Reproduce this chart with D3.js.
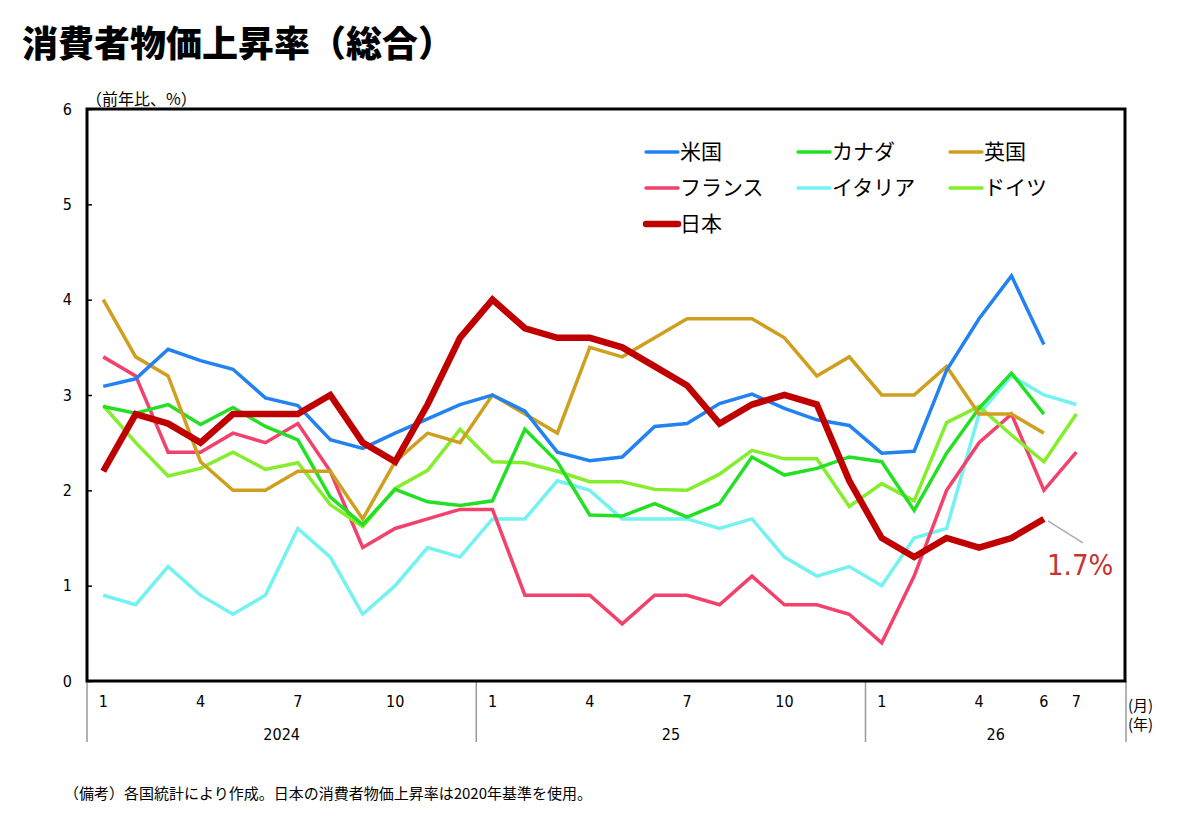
<!DOCTYPE html>
<html>
<head>
<meta charset="utf-8">
<script src="https://cdn.jsdelivr.net/npm/d3@7"></script>
<style>
  body { margin: 0; background: #fff; }
  text { font-family: "Noto Sans CJK JP", sans-serif; }
  .num { font-family: "Liberation Sans Narrow", "DejaVu Sans Condensed", "DejaVu Sans", sans-serif; font-stretch: condensed; font-weight: 400; }
</style>
</head>
<body>
<div id="viz"></div>
<script>
var width = 1200;
var height = 831;

// months Jan 2024 .. Aug 2026 (last band left empty)
var months = [];
[2024, 2025, 2026].forEach(function(y) {
  d3.range(1, 13).forEach(function(m) {
    if (y < 2026 || m <= 8) months.push(y + "-" + (m < 10 ? "0" + m : m));
  });
});

var tickMonths = ["2024-01", "2024-04", "2024-07", "2024-10",
                  "2025-01", "2025-04", "2025-07", "2025-10",
                  "2026-01", "2026-04", "2026-06", "2026-07"];
var yearStarts = ["2024-01", "2025-01", "2026-01"];
var yearLabels = ["2024", "25", "26"];
var yTicks = [0, 1, 2, 3, 4, 5, 6];

// 前年比 %
var usa     = [3.09, 3.17, 3.48, 3.36, 3.27, 2.97, 2.89, 2.53, 2.44, 2.6, 2.75, 2.9,
               3.0, 2.83, 2.4, 2.31, 2.35, 2.67, 2.7, 2.91, 3.01, 2.86, 2.74, 2.68,
               2.39, 2.41, 3.26, 3.8, 4.25, 3.53];
var canada  = [2.88, 2.81, 2.9, 2.69, 2.87, 2.67, 2.53, 1.93, 1.64, 2.01, 1.88, 1.84,
               1.89, 2.64, 2.3, 1.74, 1.73, 1.86, 1.72, 1.86, 2.35, 2.16, 2.23, 2.35,
               2.3, 1.79, 2.39, 2.86, 3.23, 2.8];
var uk      = [4.0, 3.4, 3.2, 2.3, 2.0, 2.0, 2.2, 2.2, 1.7, 2.3, 2.6, 2.5,
               3.0, 2.8, 2.6, 3.5, 3.4, 3.6, 3.8, 3.8, 3.8, 3.6, 3.2, 3.4,
               3.0, 3.0, 3.3, 2.8, 2.8, 2.6];
var france  = [3.4, 3.2, 2.4, 2.4, 2.6, 2.5, 2.7, 2.2, 1.4, 1.6, 1.7, 1.8,
               1.8, 0.9, 0.9, 0.9, 0.6, 0.9, 0.9, 0.8, 1.1, 0.8, 0.8, 0.7,
               0.4, 1.1, 2.0, 2.5, 2.8, 2.0, 2.4];
var italy   = [0.9, 0.8, 1.2, 0.9, 0.7, 0.9, 1.6, 1.3, 0.7, 1.0, 1.4, 1.3,
               1.7, 1.7, 2.1, 2.0, 1.7, 1.7, 1.7, 1.6, 1.7, 1.3, 1.1, 1.2,
               1.0, 1.5, 1.6, 2.8, 3.2, 3.0, 2.9];
var germany = [2.89, 2.5, 2.15, 2.23, 2.4, 2.22, 2.29, 1.85, 1.62, 2.02, 2.21, 2.64,
               2.3, 2.29, 2.2, 2.09, 2.09, 2.01, 2.0, 2.17, 2.42, 2.33, 2.33, 1.83,
               2.07, 1.89, 2.71, 2.88, 2.58, 2.3, 2.8];
var japan   = [2.2, 2.8, 2.7, 2.5, 2.8, 2.8, 2.8, 3.0, 2.5, 2.3, 2.9, 3.6,
               4.0, 3.7, 3.6, 3.6, 3.5, 3.3, 3.1, 2.7, 2.9, 3.0, 2.9, 2.1,
               1.5, 1.3, 1.5, 1.4, 1.5, 1.7];

var series = [
  { name: "イタリア", values: italy,   color: "#74f2f2", w: 3.5 },
  { name: "フランス", values: france,  color: "#f2426c", w: 3.5 },
  { name: "ドイツ",   values: germany, color: "#84ee2c", w: 3.5 },
  { name: "カナダ",   values: canada,  color: "#24e024", w: 3.5 },
  { name: "英国",     values: uk,      color: "#cfa020", w: 3.5 },
  { name: "米国",     values: usa,     color: "#2282f0", w: 3.5 },
  { name: "日本",     values: japan,   color: "#c00000", w: 6.5 }
];
var legendOrder = ["米国", "カナダ", "英国", "フランス", "イタリア", "ドイツ", "日本"];

var plotL = 87, plotR = 1125, plotT = 109, plotB = 681;

var svg = d3.select("#viz")
    .append("svg")
    .attr("width", width)
    .attr("height", height);

var x = d3.scaleBand().domain(months).range([plotL, plotR]).padding(0);
var y = d3.scaleLinear().domain([0, 6]).range([plotB, plotT]);
var half = x.bandwidth() / 2;

// title
svg.append("text")
    .attr("x", 22).attr("y", 57)
    .attr("font-size", 36).attr("font-weight", 900)
    .text("消費者物価上昇率（総合）");

svg.append("text")
    .attr("x", 86).attr("y", 105)
    .attr("font-size", 16)
    .text("（前年比、%）");

// y axis
var yAxis = svg.append("g")
    .attr("transform", "translate(" + plotL + ",0)")
    .call(d3.axisLeft(y).tickValues(yTicks).tickFormat(d3.format("d"))
      .tickSizeInner(-5).tickSizeOuter(0).tickPadding(15));
yAxis.select(".domain").remove();
yAxis.selectAll("text").attr("class", "num").attr("font-size", 16).attr("fill", "#000");
yAxis.selectAll("line").attr("stroke", "#000").attr("stroke-width", 1.5);

// x axis month labels
var xAxis = svg.append("g")
    .attr("transform", "translate(0," + plotB + ")")
    .call(d3.axisBottom(x).tickValues(tickMonths).tickSize(0).tickPadding(15)
      .tickFormat(function(d) { return +d.slice(5); }));
xAxis.select(".domain").remove();
xAxis.selectAll("text").attr("class", "num").attr("font-size", 16).attr("fill", "#000");

// year dividers
var dividers = yearStarts.map(function(m) { return x(m); }).concat([plotR + 1]);
svg.selectAll("line.div")
    .data(dividers)
    .enter()
    .append("line")
    .attr("class", "div")
    .attr("x1", function(d) { return d; }).attr("x2", function(d) { return d; })
    .attr("y1", plotB).attr("y2", 742)
    .attr("stroke", "#999").attr("stroke-width", 1.5);

svg.selectAll("text.year")
    .data(yearLabels)
    .enter()
    .append("text")
    .attr("class", "num year")
    .attr("x", function(d, i) { return (dividers[i] + dividers[i + 1]) / 2; })
    .attr("y", 740)
    .attr("text-anchor", "middle")
    .attr("font-size", 16)
    .text(function(d) { return d; });

svg.append("text").attr("x", 1128).attr("y", 711).attr("font-size", 15).text("(月)");
svg.append("text").attr("x", 1128).attr("y", 730).attr("font-size", 15).text("(年)");

// lines
var line = d3.line()
    .x(function(d, i) { return x(months[i]) + half; })
    .y(function(d) { return y(d); });

svg.selectAll("path.series")
    .data(series)
    .enter()
    .append("path")
    .attr("class", "series")
    .attr("d", function(d) { return line(d.values); })
    .attr("fill", "none")
    .attr("stroke", function(d) { return d.color; })
    .attr("stroke-width", function(d) { return d.w; })
    .attr("stroke-linejoin", "miter");

// frame
svg.append("rect")
    .attr("x", plotL).attr("y", plotT)
    .attr("width", plotR - plotL).attr("height", plotB - plotT)
    .attr("fill", "none").attr("stroke", "#000").attr("stroke-width", 3);

// legend
var legCols = [646, 798, 950], legRows = [152, 188, 224];
var leg = svg.selectAll("g.leg")
    .data(legendOrder.map(function(n) { return series.find(function(s) { return s.name === n; }); }))
    .enter()
    .append("g")
    .attr("class", "leg")
    .attr("transform", function(d, i) {
      return "translate(" + legCols[i % 3] + "," + legRows[Math.floor(i / 3)] + ")";
    });
leg.append("line")
    .attr("x1", 0).attr("x2", 32)
    .attr("stroke", function(d) { return d.color; })
    .attr("stroke-width", function(d) { return d.w; })
    .attr("stroke-linecap", "round");
leg.append("text")
    .attr("x", 34).attr("y", 7)
    .attr("font-size", 21)
    .text(function(d) { return d.name; });

// callout for latest Japan value
var lastI = japan.length - 1;
var px = x(months[lastI]) + half, py = y(japan[lastI]);
svg.append("line")
    .attr("x1", px + 4).attr("y1", py + 2)
    .attr("x2", px + 39).attr("y2", py + 24)
    .attr("stroke", "#aaa").attr("stroke-width", 1.5);
svg.append("text")
    .attr("class", "num")
    .attr("x", 1047).attr("y", 575)
    .attr("font-size", 29)
    .attr("fill", "#c83232")
    .text(japan[lastI] + "%");

// note
svg.append("text")
    .attr("x", 64).attr("y", 799)
    .attr("font-size", 15)
    .text("（備考）各国統計により作成。日本の消費者物価上昇率は2020年基準を使用。");
</script>
</body>
</html>
